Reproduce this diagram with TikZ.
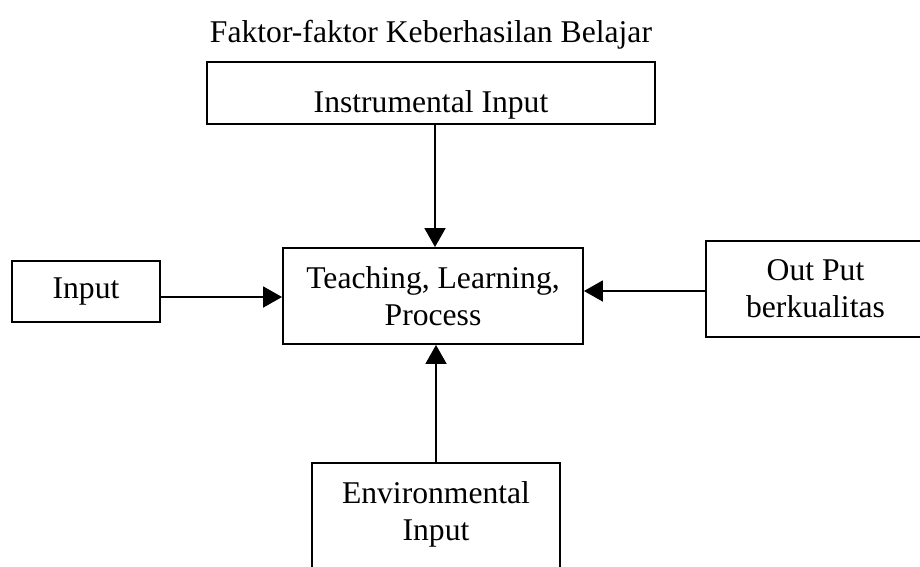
\documentclass[tikz,border=0pt]{standalone}
\usepackage{fontspec}
\setmainfont{Liberation Serif}
\usetikzlibrary{arrows.meta}
\begin{document}
\begin{tikzpicture}[
  box/.style={draw, line width=1.1pt, align=center, inner sep=0pt,
    font=\fontsize{18}{21}\selectfont},
  conn/.style={line width=1.1pt, -{Triangle[length=0.38cm,width=0.42cm]}}
]
\useasboundingbox (0,0) rectangle (18.4,-11.32);
\node[font=\fontsize{18}{21}\selectfont, anchor=base] (title) at (8.62,-0.86) {Faktor-faktor Keberhasilan Belajar};
\node[box, minimum width=8.96cm, minimum height=1.24cm, text height=0.8cm, text depth=0pt] (instr) at (8.62,-1.86) {Instrumental Input};
\node[box, minimum width=6.0cm, minimum height=1.92cm] (tlp) at (8.66,-5.92) {Teaching, Learning,\\Process};
\node[box, minimum width=2.96cm, minimum height=1.22cm] (input) at (1.72,-5.83) {Input};
\node[box, minimum width=4.38cm, minimum height=1.92cm] (out) at (16.31,-5.78) {Out Put\\berkualitas};
\node[box, minimum width=4.96cm, minimum height=2.6cm, anchor=north] (env) at (8.72,-9.24) {};
\node[align=center, inner sep=0pt, font=\fontsize{18}{21}\selectfont, anchor=base] (envtext) at (8.72,-10.80) {Environmental\\Input};
\draw[conn] (instr.south -| 8.70,0) -- (tlp.north -| 8.70,0);
\draw[conn] (input.east |- 0,-5.94) -- (tlp.west |- 0,-5.94);
\draw[conn] (out.west |- 0,-5.82) -- (tlp.east |- 0,-5.82);
\draw[conn] (env.north -| 8.72,0) -- (tlp.south -| 8.72,0);
\end{tikzpicture}
\end{document}
